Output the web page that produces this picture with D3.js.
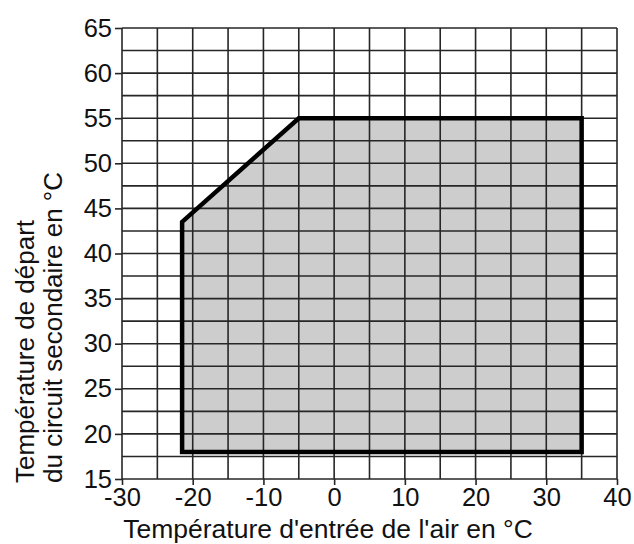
<!DOCTYPE html>
<html>
<head>
<meta charset="utf-8">
<script src="https://cdn.jsdelivr.net/npm/d3@7"></script>
<style>
  body { margin: 0; background: #fff; }
  text { font-family: "Liberation Sans", Arial, sans-serif; fill: #111; }
</style>
</head>
<body>
<svg id="chart" width="634" height="544"></svg>
<script>
// operating envelope (air inlet temp, flow temp)
var envelopeX = [-21.5, -21.5, -5, 35, 35];
var envelopeY = [18, 43.5, 55, 55, 18];

var xTicks = [-30, -20, -10, 0, 10, 20, 30, 40];
var yTicks = [15, 20, 25, 30, 35, 40, 45, 50, 55, 60, 65];
var xGrid = d3.range(-30, 40.1, 5);
var yGrid = d3.range(15, 65.1, 2.5);

var xLabel = "Température d'entrée de l'air en °C";
var yLabel = ["Température de départ", "du circuit secondaire en °C"];

var svg = d3.select("#chart");

var x = d3.scaleLinear().domain([-30, 40]).range([122, 617]);
var y = d3.scaleLinear().domain([15, 65]).range([479, 28]);

var points = envelopeX.map(function(d, i) { return [x(d), y(envelopeY[i])]; });

// grey area first, grid drawn over it
svg.append("path")
	.attr("d", d3.line()(points) + "Z")
	.attr("fill", "#cdcdcd");

var grid = svg.append("g").attr("stroke", "#262626").attr("stroke-width", 1.6);

grid.selectAll("line.v")
	.data(xGrid)
	.enter()
	.append("line")
	.attr("x1", d => x(d)).attr("x2", d => x(d))
	.attr("y1", y(65)).attr("y2", y(15));

grid.selectAll("line.h")
	.data(yGrid)
	.enter()
	.append("line")
	.attr("y1", d => y(d)).attr("y2", d => y(d))
	.attr("x1", x(-30)).attr("x2", x(40));

// axes with short outer ticks, plain hyphen for negatives
var xAxis = d3.axisBottom(x).tickValues(xTicks).tickSize(6).tickPadding(3).tickFormat(d => String(d));
var yAxis = d3.axisLeft(y).tickValues(yTicks).tickSize(7).tickPadding(3).tickFormat(d => String(d));

var gx = svg.append("g").attr("transform", "translate(0," + y(15) + ")").call(xAxis);
var gy = svg.append("g").attr("transform", "translate(" + x(-30) + ",0)").call(yAxis);

[gx, gy].forEach(function(g) {
	g.select(".domain").remove();
	g.selectAll(".tick line").attr("stroke", "#262626").attr("stroke-width", 1.6);
	g.selectAll(".tick text")
		.attr("font-size", 25.5)
		.attr("font-family", "Liberation Sans, Arial, sans-serif")
		.attr("fill", "#111");
});
gx.selectAll(".tick text").attr("dy", "0.7em");

// envelope outline
svg.append("path")
	.attr("d", d3.line()(points) + "Z")
	.attr("fill", "none")
	.attr("stroke", "#000")
	.attr("stroke-width", 4.5)
	.attr("stroke-linejoin", "miter");

svg.append("text")
	.attr("x", 328)
	.attr("y", 538)
	.attr("text-anchor", "middle")
	.attr("font-size", 26.5)
	.text(xLabel);

svg.selectAll("text.ylab")
	.data(yLabel)
	.enter()
	.append("text")
	.attr("class", "ylab")
	.attr("transform", (d, i) => "translate(" + (34 + i * 28) + ",483) rotate(-90)")
	.attr("font-size", 26)
	.text(d => d);
</script>
</body>
</html>
